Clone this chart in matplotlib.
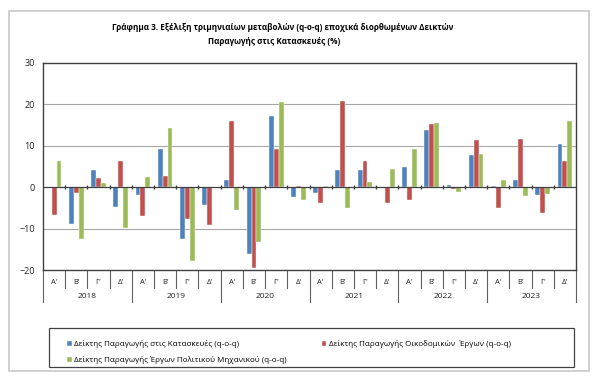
import matplotlib.pyplot as plt
from matplotlib.patches import Rectangle
import numpy as np

plt.rcParams['font.family'] = ['Open Sans', 'DejaVu Sans']

years = ['2018', '2019', '2020', '2021', '2022', '2023']
quarters = ["Α'", "Β'", "Γ'", "Δ'"]

# Δείκτης Παραγωγής στις Κατασκευές (q-o-q)
kataskeues = [0.0, -8.8, 4.2, -4.9,
              -2.0, 9.3, -12.6, -4.2,
              1.8, -16.2, 17.2, -2.4,
              -1.3, 4.1, 4.1, -0.1,
              5.0, 13.8, 0.6, 7.7,
              0.2, 1.8, -2.0, 10.4]
# Δείκτης Παραγωγής Οικοδομικών Έργων (q-o-q)
oikodomika = [-6.7, -1.5, 2.3, 6.3,
              -6.9, 2.8, -7.6, -9.1,
              16.0, -19.5, 9.3, 0.2,
              -3.9, 20.9, 6.3, -3.7,
              -3.1, 15.2, -0.5, 11.4,
              -5.0, 11.7, -6.3, 6.3]
# Δείκτης Παραγωγής Έργων Πολιτικού Μηχανικού (q-o-q)
politikou = [6.3, -12.4, 1.1, -9.8,
             2.4, 14.2, -17.9, 0.0,
             -5.5, -13.3, 20.5, -3.1,
             0.2, -5.1, 1.3, 4.4,
             9.3, 15.4, -1.2, 7.9,
             1.8, -2.1, -1.6, 16.1]

labels = ['Δείκτης Παραγωγής στις Κατασκευές (q-o-q)',
          'Δείκτης Παραγωγής Οικοδομικών  Έργων (q-o-q)',
          'Δείκτης Παραγωγής Έργων Πολιτικού Μηχανικού (q-o-q)']
colors = ['#4F81BD', '#C0504D', '#9BBB59']

W, H = 600, 380
fig = plt.figure(figsize=(6, 3.8), dpi=100)

# outer light frame
fig.patches.append(Rectangle((9 / W, 1 - 371 / H), 580 / W, 360 / H, transform=fig.transFigure,
                             fill=False, edgecolor='#c8c8c8', linewidth=1.2))
# legend box
fig.patches.append(Rectangle((49 / W, 1 - 367 / H), 525 / W, 39 / H, transform=fig.transFigure,
                             fill=False, edgecolor='#404040', linewidth=0.9))

ax = fig.add_axes([43 / W, 1 - 270 / H, 533 / W, 207 / H])

n = len(kataskeues)
x = np.arange(n)
bw = 0.22
for i, (vals, c) in enumerate(zip([kataskeues, oikodomika, politikou], colors)):
    ax.bar(x + (i - 1) * bw, vals, bw, color=c, edgecolor='white', linewidth=0.3,
           label=labels[i], zorder=3)

ax.set_xlim(-0.5, n - 0.5)
ax.set_ylim(-20, 30)
ax.set_yticks([-20, -10, 0, 10, 20, 30])
ax.tick_params(axis='y', length=0, labelsize=6.5, pad=6, colors='#222222')
ax.set_xticks([])
for y in [-10, 10, 20]:
    ax.axhline(y, color='#a6a6a6', linewidth=0.8, zorder=1)
ax.axhline(0, color='#404040', linewidth=0.9, zorder=4)
ax.plot(np.arange(n - 1) + 0.5, [0] * (n - 1), linestyle='none', marker='|',
        markersize=3, color='#404040', zorder=4)
for s in ax.spines.values():
    s.set_color('#404040')
    s.set_linewidth(1.0)

# multi-level category axis
tr = ax.get_xaxis_transform()
for k in range(n):
    ax.text(k, -0.058, quarters[k % 4], transform=tr, ha='center', va='center',
            fontsize=5.5, color='#222222')
for b in range(n + 1):
    low = -0.155 if b % 4 == 0 else -0.085
    ax.plot([b - 0.5, b - 0.5], [0, low], transform=tr, color='#606060',
            linewidth=0.8, clip_on=False)
for j, yr in enumerate(years):
    ax.text(4 * j + 1.5, -0.13, yr, transform=tr, ha='center', va='center',
            fontsize=6, color='#222222')

fig.text(283 / W, 1 - 28 / H, 'Γράφημα 3. Εξέλιξη τριμηνιαίων μεταβολών (q-o-q) εποχικά διορθωμένων Δεικτών',
         ha='center', va='center', fontsize=5.9, fontweight='bold')
fig.text(274 / W, 1 - 41 / H, 'Παραγωγής στις Κατασκευές (%)',
         ha='center', va='center', fontsize=5.9, fontweight='bold')

h, l = ax.get_legend_handles_labels()
order = [0, 2, 1]
leg = fig.legend([h[i] for i in order], [l[i] for i in order], ncol=2,
                 loc='upper left', bbox_to_anchor=(63 / W, 1 - 336 / H),
                 fontsize=5.8, frameon=False, handlelength=0.6,
                 handleheight=0.6, handletextpad=0.3, borderpad=0.0,
                 labelspacing=0.95, columnspacing=4.3)

fig.savefig('out.png', dpi=100)
